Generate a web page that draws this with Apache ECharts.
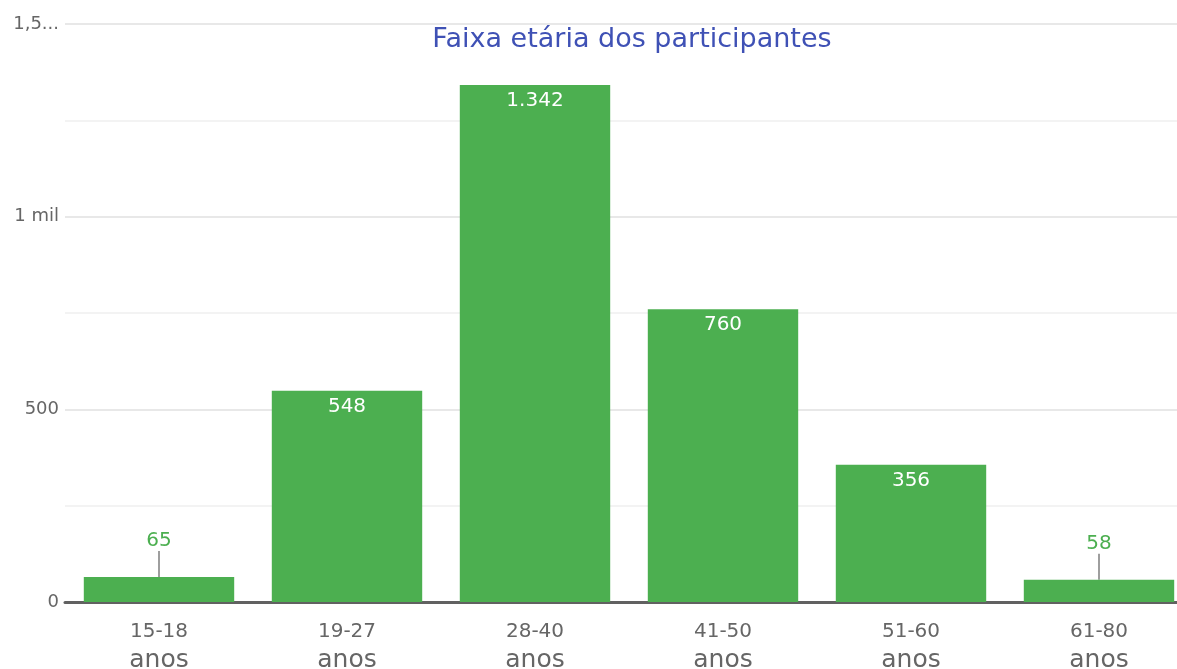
<!DOCTYPE html>
<html><head><meta charset="utf-8">
<script src="https://cdn.jsdelivr.net/npm/echarts@6/dist/echarts.min.js"></script>
<style>html,body{margin:0;padding:0;background:#fff}#c{width:1177px;height:669px}</style>
</head><body><div id="c"></div>
<script>
const categories = ['15-18\nanos', '19-27\nanos', '28-40\nanos', '41-50\nanos', '51-60\nanos', '61-80\nanos'];
const values = [65, 548, 1342, 760, 356, 58];
const yTicks = {0: '0', 500: '500', 1000: '1 mil', 1500: '1,5...'};
const title = 'Faixa etária dos participantes';

const FONT = 'DejaVu Sans';
const GREEN = '#4caf50';
function fmt(v){ return v >= 1000 ? String(v).replace(/\B(?=(\d{3})+(?!\d))/g, '.') : String(v); }

const chart = echarts.init(document.getElementById('c'));
chart.setOption({
  animation: false,
  title: { text: title, left: 627, textAlign: 'center', top: 21,
    textStyle: { color: '#3f51b5', fontFamily: FONT, fontSize: 27, fontWeight: 'normal' } },
  grid: { left: 65, width: 1128, top: 24, height: 578, outerBoundsMode: 'none', containLabel: false },
  xAxis: { type: 'category', data: categories,
    axisLine: { lineStyle: { color: '#616161', width: 3 } },
    axisTick: { show: false },
    axisLabel: { color: '#666', fontFamily: FONT, margin: 17,
      formatter: v => { const p = v.split('\n'); return '{a|' + p[0] + '}\n{b|' + p[1] + '}'; },
      rich: { a: { fontFamily: FONT, fontSize: 20, lineHeight: 26, color: '#666' },
              b: { fontFamily: FONT, fontSize: 25, lineHeight: 30, color: '#666' } } } },
  yAxis: { type: 'value', min: 0, max: 1500, interval: 500,
    axisLine: { show: false }, axisTick: { show: false },
    axisLabel: { color: '#666', fontFamily: FONT, fontSize: 18, margin: 6, formatter: v => yTicks[v] ?? '' },
    splitLine: { lineStyle: { color: '#e8e8e8', width: 2 } },
    minorTick: { show: false, splitNumber: 2 },
    minorSplitLine: { show: true, lineStyle: { color: '#f3f3f3', width: 2 } } },
  series: [{
    type: 'bar', barCategoryGap: '20%',
    itemStyle: { color: GREEN },
    data: values.map(v => v < 150 ? {
      value: v,
      label: { position: 'top', color: GREEN, distance: 2 },
      labelLine: { show: true }
    } : { value: v }),
    label: { show: true, position: 'insideTop', distance: 6, color: '#fff', fontFamily: FONT, fontSize: 20,
      formatter: p => fmt(p.value) },
    labelLayout: p => (values[p.dataIndex] < 150 ? { dy: -24 } : {}),
    labelLine: { show: false, lineStyle: { color: '#9e9e9e', width: 2 } }
  }]
});
</script></body></html>
